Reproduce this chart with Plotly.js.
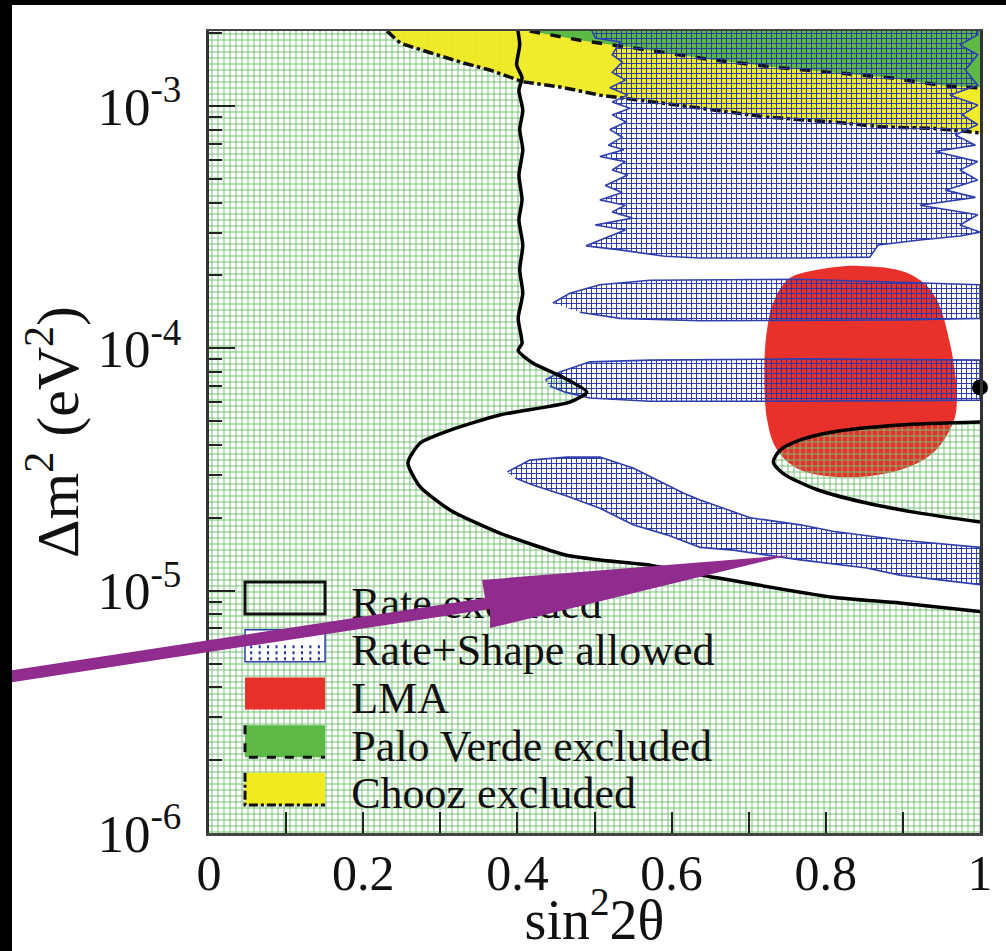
<!DOCTYPE html>
<html><head><meta charset="utf-8">
<script src="https://cdn.plot.ly/plotly-3.0.1.min.js"></script>
<style>
html,body{margin:0;padding:0;background:#000;width:1006px;height:951px;overflow:hidden}
#chart{position:absolute;left:12px;top:5px;width:994px;height:946px;background:#fff}
</style></head><body><div id="chart"></div>
<script>
// ---- data (sin^2 2theta, delta m^2 in eV^2) ----
const rateContourX = [0.399,0.403,0.399,0.406,0.402,0.407,0.403,0.407,0.402,0.406,0.402,0.407,0.403,0.407,0.401,0.406,0.401,0.420,0.459,0.490,0.468,0.377,0.313,0.274,0.258,0.274,0.313,0.377,0.464,0.507,0.568,0.659,0.809,0.896,1.0];
const rateContourY = [2.2e-3,1.79e-3,1.48e-3,1.31e-3,1.16e-3,9.6e-4,8.0e-4,6.6e-4,5.2e-4,4.1e-4,3.39e-4,2.67e-4,2.11e-4,1.69e-4,1.33e-4,1.05e-4,9.8e-5,8.7e-5,7.6e-5,6.6e-5,6.0e-5,5.31e-5,4.6e-5,4.07e-5,3.37e-5,2.68e-5,2.15e-5,1.73e-5,1.40e-5,1.34e-5,1.28e-5,1.13e-5,9.4e-6,8.9e-6,8.2e-6];
const islandX = [1.0,0.896,0.809,0.767,0.741,0.732,0.744,0.789,0.853,0.918,1.0];
const islandY = [4.97e-5,4.83e-5,4.52e-5,4.19e-5,3.81e-5,3.40e-5,3.06e-5,2.61e-5,2.30e-5,2.10e-5,1.92e-5];

const choozX = [0.231,0.248,0.287,0.329,0.364,0.407,0.455,0.507,0.628,0.724,0.809,0.874,0.939,1.0];
const choozY = [2.04e-3,1.82e-3,1.66e-3,1.51e-3,1.41e-3,1.26e-3,1.20e-3,1.11e-3,9.9e-4,9.0e-4,8.6e-4,8.2e-4,8.1e-4,7.75e-4];
const paloVerdeX = [0.416,0.481,0.550,0.654,0.741,0.818,0.883,0.955,1.0];
const paloVerdeY = [2.04e-3,1.87e-3,1.74e-3,1.55e-3,1.44e-3,1.37e-3,1.31e-3,1.21e-3,1.19e-3];

const lmaX = [0.737,0.753,0.789,0.844,0.905,0.939,0.961,0.970,0.965,0.939,0.896,0.831,0.767,0.737,0.724,0.721,0.728];
const lmaY = [1.69e-4,1.95e-4,2.11e-4,2.19e-4,2.05e-4,1.69e-4,1.05e-4,6.12e-5,4.92e-5,3.70e-5,3.15e-5,2.94e-5,3.15e-5,3.81e-5,5.06e-5,9.8e-5,1.44e-4];

const allowedAX = [0.492,0.501,0.533,0.523,0.536,0.523,0.540,0.520,0.543,0.523,0.546,0.523,0.541,0.520,0.536,0.518,0.538,0.507,0.540,0.523,0.543,0.514,0.536,0.507,0.540,0.523,0.549,0.501,0.540,0.489,0.533,0.591,0.637,0.767,0.857,0.868,0.922,0.974,1.0,0.974,0.997,0.922,0.994,0.955,0.997,0.974,0.997,0.942,0.994,0.968,0.997,0.977,0.997,0.961,0.997,0.981,0.997,0.974,0.997,0.997];
const allowedAY = [2.2e-3,1.91e-3,1.84e-3,1.63e-3,1.52e-3,1.38e-3,1.28e-3,1.19e-3,1.11e-3,1.04e-3,9.8e-4,9.2e-4,8.6e-4,8.0e-4,7.45e-4,6.9e-4,6.6e-4,6.2e-4,5.9e-4,5.45e-4,5.2e-4,4.7e-4,4.4e-4,4.1e-4,3.9e-4,3.66e-4,3.45e-4,3.23e-4,3.08e-4,2.65e-4,2.55e-4,2.40e-4,2.36e-4,2.36e-4,2.38e-4,2.67e-4,2.80e-4,2.91e-4,3.02e-4,3.23e-4,3.56e-4,3.9e-4,4.2e-4,4.5e-4,4.95e-4,5.45e-4,5.9e-4,6.5e-4,6.9e-4,7.6e-4,8.4e-4,9.2e-4,1.01e-3,1.11e-3,1.22e-3,1.41e-3,1.63e-3,1.79e-3,1.97e-3,2.2e-3];
const allowedBX = [0.446,0.468,0.507,0.572,0.767,0.896,1.0,1.0,0.896,0.637,0.533,0.481];
const allowedBY = [1.54e-4,1.69e-4,1.83e-4,1.91e-4,1.93e-4,1.88e-4,1.83e-4,1.33e-4,1.31e-4,1.30e-4,1.33e-4,1.41e-4];
const allowedCX = [0.436,0.455,0.494,0.572,0.767,1.0,1.0,0.767,0.572,0.494,0.462,0.442];
const allowedCY = [7.4e-5,8.0e-5,8.8e-5,8.95e-5,9.05e-5,8.95e-5,6.12e-5,6.05e-5,6.05e-5,6.24e-5,6.6e-5,7.0e-5];
const allowedDX = [0.387,0.416,0.464,0.507,0.550,0.615,0.637,0.702,0.767,0.809,0.896,1.0,1.0,0.896,0.853,0.767,0.680,0.637,0.594,0.550,0.507,0.464,0.420,0.397];
const allowedDY = [3.09e-5,3.46e-5,3.56e-5,3.56e-5,3.21e-5,2.53e-5,2.37e-5,2.0e-5,1.87e-5,1.76e-5,1.62e-5,1.51e-5,1.06e-5,1.16e-5,1.24e-5,1.34e-5,1.47e-5,1.51e-5,1.70e-5,1.87e-5,2.19e-5,2.46e-5,2.73e-5,2.92e-5];

const bestFitX = [1.0];
const bestFitY = [6.9e-5];

const xTickVals = [0,0.2,0.4,0.6,0.8,1];
const xTickText = ['0','0.2','0.4','0.6','0.8','1'];
const yTickVals = [1e-6,1e-5,1e-4,1e-3];
const yTickText = ['10<sup>-6</sup>','10<sup>-5</sup>','10<sup>-4</sup>','10<sup>-3</sup>'];

const legendNames = ['Rate excluded','Rate+Shape allowed','LMA','Palo Verde excluded','Chooz excluded'];

// ---- styles ----
const FONT = '"Liberation Serif","Times New Roman",serif';
const RED = '#e8312a', GREEN = '#5cb946', YELLOW = '#f0ea1e', BLUE = '#2f3fb0', PURPLE = '#902c8e';
const TOPY = 2.6e-3, BOTY = 8e-7, LX = -0.02, RX = 1.02;

function joinGaps(xs, ys) {
  const X = [], Y = [];
  xs.forEach((a, i) => { if (i) { X.push(null); Y.push(null); } X.push(...a); Y.push(...ys[i]); });
  return [X, Y];
}

// excluded region = left/below of main contour + inner island
const exclX = [LX, ...rateContourX, RX, RX, LX];
const exclY = [TOPY, ...rateContourY, rateContourY[rateContourY.length-1], BOTY, BOTY];
const islX = [RX, ...islandX, RX];
const islY = [islandY[0], ...islandY, islandY[islandY.length-1]];
const [exX, exY] = joinGaps([exclX, islX], [exclY, islY]);

const [alX, alY] = joinGaps([allowedAX, allowedBX, allowedCX, allowedDX], [allowedAY, allowedBY, allowedCY, allowedDY]);

const choozFillX = [...choozX, RX, RX];
const choozFillY = [...choozY, choozY[choozY.length-1], TOPY];
const pvFillX = [...paloVerdeX, RX, RX];
const pvFillY = [...paloVerdeY, paloVerdeY[paloVerdeY.length-1], TOPY];

const traces = [
  {x: lmaX, y: lmaY, type:'scatter', mode:'lines', fill:'toself', fillcolor: RED,
   line:{width:0, shape:'spline', smoothing:1}, showlegend:false, hoverinfo:'skip', name: legendNames[2]},
  {x: exX, y: exY, type:'scatter', mode:'lines', fill:'toself', fillcolor:'rgba(0,0,0,0)',
   fillpattern:{shape:'+', fgcolor:'#74c074', bgcolor:'rgba(0,0,0,0)', size:6, solidity:0.3},
   line:{width:0}, showlegend:false, hoverinfo:'skip', name: legendNames[0]},
  {x: choozFillX, y: choozFillY, type:'scatter', mode:'lines', fill:'toself', fillcolor:'rgba(240,234,30,0.93)',
   line:{width:0}, showlegend:false, hoverinfo:'skip', name: legendNames[4]},
  {x: pvFillX, y: pvFillY, type:'scatter', mode:'lines', fill:'toself', fillcolor: GREEN,
   line:{width:0}, showlegend:false, hoverinfo:'skip', name: legendNames[3]},
  {x: choozX, y: choozY, type:'scatter', mode:'lines', line:{color:'#111', width:3.5, dash:'dashdot'},
   showlegend:false, hoverinfo:'skip'},
  {x: paloVerdeX, y: paloVerdeY, type:'scatter', mode:'lines', line:{color:'#111', width:3.5, dash:'dash'},
   showlegend:false, hoverinfo:'skip'},
  {x: alX, y: alY, type:'scatter', mode:'lines', fill:'toself', fillcolor:'rgba(0,0,0,0)',
   fillpattern:{shape:'+', fgcolor:'#2434a4', bgcolor:'rgba(0,0,0,0)', size:5, solidity:0.34},
   line:{color: BLUE, width:1.6}, showlegend:false, hoverinfo:'skip', name: legendNames[1]},
  {x: rateContourX, y: rateContourY, type:'scatter', mode:'lines', line:{color:'#000', width:3.5, shape:'spline', smoothing:0.6},
   showlegend:false, hoverinfo:'skip'},
  {x: islandX, y: islandY, type:'scatter', mode:'lines', line:{color:'#000', width:3.5, shape:'spline', smoothing:0.8},
   showlegend:false, hoverinfo:'skip'},
  {x: bestFitX, y: bestFitY, type:'scatter', mode:'markers', marker:{color:'#000', size:16},
   cliponaxis:false, showlegend:false, hoverinfo:'skip'}
];

// ---- hand-made legend (paper coordinates) ----
const rowC = [0.293, 0.2335, 0.174, 0.1145, 0.055];
const sx0 = 0.0467, sx1 = 0.1505, hh = 0.02;
const shapes = [];
shapes.push({type:'rect', xref:'paper', yref:'paper', x0:sx0, x1:sx1, y0:rowC[0]-hh, y1:rowC[0]+hh,
  fillcolor:'rgba(0,0,0,0)', line:{color:'#111', width:3}});
shapes.push({type:'rect', xref:'paper', yref:'paper', x0:sx0, x1:sx1, y0:rowC[1]-hh, y1:rowC[1]+hh,
  fillcolor:'#fff', line:{color:BLUE, width:1.5}});
let vp = '';
for (let i = 0; i < 9; i++) {
  const xx = sx0 + 0.008 + i * (sx1 - sx0 - 0.016) / 8;
  vp += 'M' + xx.toFixed(4) + ',' + (rowC[1]-hh+0.002).toFixed(4) + 'V' + (rowC[1]+0.002).toFixed(4);
}
shapes.push({type:'path', xref:'paper', yref:'paper', path: vp, line:{color:'#2434a4', width:2, dash:'dot'}});
shapes.push({type:'rect', xref:'paper', yref:'paper', x0:sx0, x1:sx1, y0:rowC[2]-hh, y1:rowC[2]+hh,
  fillcolor:RED, line:{width:0}});
shapes.push({type:'rect', xref:'paper', yref:'paper', x0:sx0, x1:sx1, y0:rowC[3]-hh, y1:rowC[3]+hh,
  fillcolor:GREEN, line:{width:0}});
shapes.push({type:'path', xref:'paper', yref:'paper',
  path:'M'+sx0+','+(rowC[3]+hh)+'L'+sx0+','+(rowC[3]-hh)+'L'+sx1+','+(rowC[3]-hh),
  line:{color:'#111', width:3, dash:'dash'}});
shapes.push({type:'rect', xref:'paper', yref:'paper', x0:sx0, x1:sx1, y0:rowC[4]-hh, y1:rowC[4]+hh,
  fillcolor:YELLOW, line:{width:0}});
shapes.push({type:'path', xref:'paper', yref:'paper',
  path:'M'+sx0+','+(rowC[4]+hh)+'L'+sx0+','+(rowC[4]-hh)+'L'+sx1+','+(rowC[4]-hh),
  line:{color:'#111', width:3, dash:'dashdot'}});
// legend texts as shape labels (so that the arrow can sit on top of them)
legendNames.forEach((t, i) => {
  shapes.push({type:'rect', xref:'paper', yref:'paper', x0:0.178, x1:0.8, y0:rowC[i]-0.025, y1:rowC[i]+0.025,
    fillcolor:'rgba(0,0,0,0)', line:{width:0},
    label:{text:t, textposition:'middle left', padding:2, font:{family:FONT, size:44, color:'#111'}}});
});
// purple arrow
const arrow = [[-0.27,0.2007],[0.3580,0.2930],[0.3541,0.3155],[0.7536,0.3466],[0.3645,0.2556],[0.3645,0.2793],[-0.27,0.1858]];
shapes.push({type:'path', xref:'paper', yref:'paper', layer:'above',
  path: 'M' + arrow.map(p => p[0] + ',' + p[1]).join('L') + 'Z',
  fillcolor:PURPLE, line:{width:0}});

const layout = {
  width: 994, height: 946,
  margin: {l:197, r:26, t:26, b:118},
  paper_bgcolor:'#fff', plot_bgcolor:'#fff',
  font: {family: FONT, color:'#111'},
  showlegend:false,
  xaxis: {
    range:[0,1], tickmode:'array', tickvals:xTickVals, ticktext:xTickText,
    ticks:'inside', ticklen:21, tickwidth:2, tickcolor:'#222',
    minor:{dtick:0.1, tick0:0, ticks:'inside', ticklen:21, tickwidth:2, tickcolor:'#222', showgrid:false},
    showline:true, linecolor:'#444', linewidth:2.5, mirror:true, showgrid:false, zeroline:false,
    tickfont:{family:FONT, size:50, color:'#111'}, ticklabelstandoff:-6,
    title:{text:'sin<sup>2</sup>2θ', font:{family:FONT, size:56, color:'#111'}, standoff:0}
  },
  yaxis: {
    type:'log', range:[-6,-2.69], tickmode:'array', tickvals:yTickVals, ticktext:yTickText,
    ticks:'inside', ticklen:26, tickwidth:2, tickcolor:'#222',
    minor:{dtick:'D1', ticks:'inside', ticklen:13, tickwidth:2, tickcolor:'#222', showgrid:false},
    showline:true, linecolor:'#333', linewidth:3, mirror:true, showgrid:false, zeroline:false,
    tickfont:{family:FONT, size:53, color:'#111'}, ticklabelstandoff:14,
    title:{text:'Δm<sup>2</sup> (eV<sup>2</sup>)', font:{family:FONT, size:60, color:'#111'}, standoff:0}
  },
  shapes: shapes
};

Plotly.newPlot('chart', traces, layout, {displayModeBar:false, staticPlot:true});
</script></body></html>
